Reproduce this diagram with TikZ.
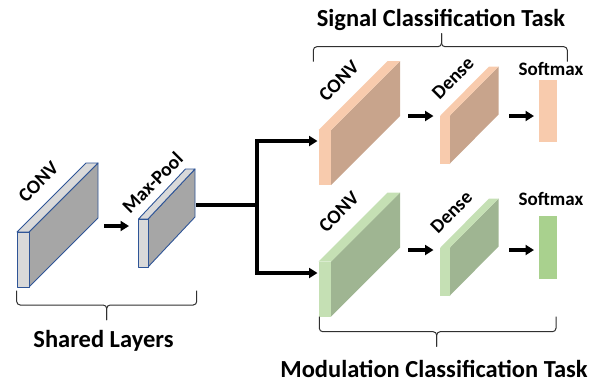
\documentclass[tikz,border=0pt]{standalone}
\usepackage{fontspec}
\setmainfont{Carlito}
\usetikzlibrary{arrows.meta}
\definecolor{grayfront}{HTML}{D9D9D9}
\definecolor{grayside}{HTML}{A6A6A6}
\definecolor{blueedge}{HTML}{2F5597}
\definecolor{orfront}{HTML}{F8CBAD}
\definecolor{orside}{HTML}{C8A48C}
\definecolor{grfront}{HTML}{C5E0B4}
\definecolor{grside}{HTML}{9FB592}
\definecolor{grsoft}{HTML}{A9D18E}
\definecolor{bracecol}{HTML}{303030}
% #1 name, #2 x, #3 y, #4 w, #5 h, #6 dx, #7 dy, #8 front, #9 side
\newcommand{\slab}[9]{%
  \path[slabedge,fill=#9] ({#2+#4},#3) -- ({#2+#4+#6},{#3+#7}) -- ({#2+#4+#6},{#3+#5+#7}) -- ({#2+#4},{#3+#5}) -- cycle;
  \path[slabedge,fill=#8] (#2,#3) -- ({#2+#6},{#3+#7}) -- ({#2+#4+#6},{#3+#7}) -- ({#2+#4},#3) -- cycle;
  \path[slabedge,fill=#8] (#2,#3) rectangle ({#2+#4},{#3+#5});
  \coordinate (#1-in) at (#2,{#3+#5/2});
}
% #1 x1, #2 x2, #3 yEnd, #4 yH, #5 xm, #6 yTip
\newcommand{\bracket}[6]{%
  \draw[bracestyle] (#1,#3) -- (#1,#4) -- (#5,#4) -- (#5,#6);
  \draw[bracestyle] (#2,#3) -- (#2,#4) -- (#5,#4) -- (#5,#6);
}
\begin{document}
\begin{tikzpicture}[x=1pt,y=-1pt,
  slabedge/.style={},
  flow/.style={line width=3.2pt,-{Triangle[length=8.5pt,width=10pt]}},
  branch/.style={line width=3.2pt},
  bracestyle/.style={draw=bracecol,line width=1pt,rounded corners=3.5pt},
  biglabel/.style={font=\bfseries\fontsize{24.5}{28}\selectfont,anchor=base,inner sep=0pt},
  layerlabel/.style={font=\bfseries\fontsize{19.5}{22}\selectfont,inner sep=0pt,rotate=45},
  softlabel/.style={font=\bfseries\fontsize{19}{22}\selectfont,anchor=base,inner sep=0pt}]
\useasboundingbox (0,0) rectangle (600,381);

% shared layers
\begin{scope}[slabedge/.style={draw=blueedge,line width=0.9pt,line join=round}]
  \slab{sconv}{17}{232}{12}{55}{69}{-69}{grayfront}{grayside}
  \slab{mpool}{138.5}{219}{9.5}{48}{47}{-50}{grayfront}{grayside}
\end{scope}
\node[layerlabel] (lsconv) at (38.5,182) {CONV};
\node[layerlabel] (lmpool) at (152.5,182.5) {Max-Pool};
\coordinate (sconvout) at (104,226);
\coordinate (mpoolin) at (129,226);
\draw[flow] (sconvout) -- (mpoolin);

% signal branch
\slab{oconv}{318.5}{130}{12.5}{55}{69}{-69}{orfront}{orside}
\slab{odense}{440}{116}{9.5}{48}{49}{-49.5}{orfront}{orside}
\path[fill=orfront] (539,80) rectangle (557,142);
\node[layerlabel] (loconv) at (339,81) {CONV};
\node[layerlabel] (lodense) at (453,78) {Dense};
\node[softlabel] (losoft) at (551,75) {Softmax};
\coordinate (oa1s) at (408,116);
\coordinate (oa1e) at (433.5,116);
\coordinate (oa2s) at (509,116);
\coordinate (oa2e) at (534,116);
\draw[flow] (oa1s) -- (oa1e);
\draw[flow] (oa2s) -- (oa2e);

% modulation branch
\slab{gconv}{318.5}{261.5}{12.5}{55}{69}{-69}{grfront}{grside}
\slab{gdense}{440}{248}{9.5}{48}{49}{-49.5}{grfront}{grside}
\path[fill=grsoft] (539,216) rectangle (557,279);
\node[layerlabel] (lgconv) at (339,212) {CONV};
\node[layerlabel] (lgdense) at (451.5,212) {Dense};
\node[softlabel] (lgsoft) at (551,205) {Softmax};
\coordinate (ga1s) at (408,250);
\coordinate (ga1e) at (433.5,250);
\coordinate (ga2s) at (509,250);
\coordinate (ga2e) at (534,250);
\draw[flow] (ga1s) -- (ga1e);
\draw[flow] (ga2s) -- (ga2e);

% branching connector
\coordinate (mpoolout) at (196,205);
\coordinate (split) at (257,205);
\coordinate (toptarget) at (317.5,141);
\coordinate (bottarget) at (317.5,273);
\draw[branch] (mpoolout) -- (split);
\draw[branch,line cap=rect] (split |- toptarget) -- (split |- bottarget);
\draw[flow] (split |- toptarget) -- (toptarget);
\draw[flow] (split |- bottarget) -- (bottarget);

% braces
\bracket{313.3}{567.3}{61.7}{46.7}{441.5}{33.3}
\bracket{16.7}{196.7}{290.7}{305}{106.7}{320}
\bracket{319.3}{556}{316.7}{331.7}{436.7}{346.7}

% titles
\node[biglabel] (tsignal) at (441,26.5) {Signal Classification Task};
\node[biglabel] (tshared) at (103.5,347.5) {Shared Layers};
\node[biglabel] (tmod) at (434,377) {Modulation Classification Task};
\end{tikzpicture}
\end{document}
